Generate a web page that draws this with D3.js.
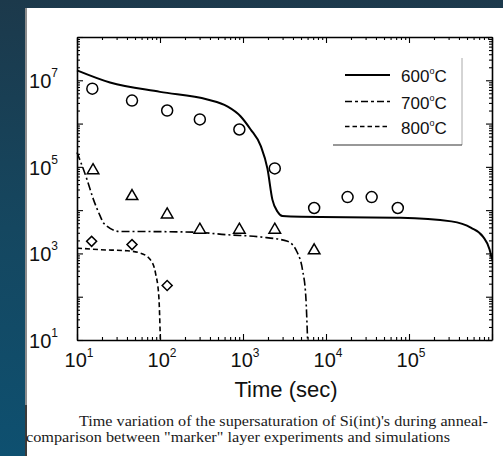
<!DOCTYPE html>
<html>
<head>
<meta charset="utf-8">
<script src="https://cdn.jsdelivr.net/npm/d3@7"></script>
<style>
  html, body { margin: 0; padding: 0; }
  body { width: 503px; height: 456px; overflow: hidden;
         background: linear-gradient(180deg, #1c394b 0%, #154760 50%, #0e5070 100%); }
  svg { display: block; }
</style>
</head>
<body>
<svg id="chart" width="503" height="456"></svg>
<script>
// ---------- data ----------
// simulation curves
const sim600T = [10, 25, 100, 372, 646, 933, 1230, 1640, 1970, 2260, 2610, 2990, 3770, 79400, 324000, 562000, 778000, 935000, 1000000];
const sim600V = [1.7e7, 8.9e6, 5.4e6, 3.6e6, 2.5e6, 1.48e6, 7.4e5, 3.0e5, 9.1e4, 1.75e4, 9.2e3, 7.3e3, 7.1e3, 6.7e3, 5.5e3, 3.9e3, 2.45e3, 1.23e3, 720];

const sim700T = [10, 13.2, 15.8, 19.1, 20.9, 33.3, 63.7, 256, 649, 1640, 3440, 4540, 5210, 5710, 6000];
const sim700V = [2.15e5, 5.1e4, 1.75e4, 7.2e3, 5.0e3, 3.2e3, 3.2e3, 3.1e3, 2.7e3, 2.4e3, 1.9e3, 1.02e3, 418, 101, 10];

const sim800T = [10, 19.1, 40.2, 58.1, 76.7, 88.3, 96.8, 101];
const sim800V = [1.33e3, 1.22e3, 1.15e3, 1.02e3, 713, 351, 101, 10];

// experimental "marker" layer points
const exp600T = [15.3, 46, 122, 302, 904, 2415, 7200, 18200, 35500, 73300];
const exp600V = [6.4e6, 3.4e6, 2.0e6, 1.25e6, 7.3e5, 9.2e4, 1.12e4, 2.0e4, 2.0e4, 1.12e4];

const exp700T = [15.6, 46, 122, 302, 904, 2415, 7200];
const exp700V = [8.3e4, 2.1e4, 7.9e3, 3.5e3, 3.5e3, 3.5e3, 1.17e3];

const exp800T = [15, 46, 122];
const exp800V = [1.9e3, 1.6e3, 181];

// tick labels
const xLabelExps = [1, 2, 3, 4, 5];
const yLabelExps = [1, 3, 5, 7];
const legendLabels = ["600", "700", "800"];
const xTitle = "Time (sec)";
const caption1 = "Time variation of the supersaturation of Si(int)'s during anneal-";
const caption2 = "comparison between \"marker\" layer experiments and simulations";

// ---------- layout ----------
const svg = d3.select("#chart");
const L = 77, R = 492, T = 37, B = 340;

// white page panel
svg.append("rect").attr("x", 25).attr("y", 8).attr("width", 478).attr("height", 448).attr("fill", "#ffffff");
svg.append("line").attr("x1", 26).attr("x2", 26).attr("y1", 8).attr("y2", 405)
   .attr("stroke", "#8c8c8c").attr("stroke-width", 2);
svg.append("line").attr("x1", 26).attr("x2", 26).attr("y1", 405).attr("y2", 456)
   .attr("stroke", "#3a3a3a").attr("stroke-width", 2);

const x = d3.scaleLog().domain([10, 1e6]).range([L, R]);
const y = d3.scaleLog().domain([10, 1e8]).range([B, T]);

// tick values
const xMajor = d3.range(1, 7).map(e => Math.pow(10, e));
const xMinor = [];
for (let e = 1; e < 6; e++) for (let k = 2; k <= 9; k++) xMinor.push(k * Math.pow(10, e));
const yMajor = d3.range(1, 9).map(e => Math.pow(10, e));
const yMinor = [];
for (let e = 1; e < 8; e++) for (let k = 2; k <= 9; k++) yMinor.push(k * Math.pow(10, e));

function styleAxis(g) {
  g.selectAll("path.domain").attr("stroke", "#000").attr("stroke-width", 1.6);
  g.selectAll(".tick line").attr("stroke", "#000").attr("stroke-width", 1.1);
  g.selectAll(".tick text").remove();
}

// bottom
svg.append("g").attr("transform", `translate(0,${B})`)
  .call(d3.axisBottom(x).tickValues(xMajor).tickSize(-6).tickSizeOuter(0).tickFormat(""))
  .call(styleAxis);
svg.append("g").attr("transform", `translate(0,${B})`)
  .call(d3.axisBottom(x).tickValues(xMinor).tickSize(-3).tickSizeOuter(0).tickFormat(""))
  .call(styleAxis).call(g => g.select("path.domain").remove());
// top
svg.append("g").attr("transform", `translate(0,${T})`)
  .call(d3.axisTop(x).tickValues(xMajor).tickSize(-6).tickSizeOuter(0).tickFormat(""))
  .call(styleAxis);
svg.append("g").attr("transform", `translate(0,${T})`)
  .call(d3.axisTop(x).tickValues(xMinor).tickSize(-3).tickSizeOuter(0).tickFormat(""))
  .call(styleAxis).call(g => g.select("path.domain").remove());
// left
svg.append("g").attr("transform", `translate(${L},0)`)
  .call(d3.axisLeft(y).tickValues(yMajor).tickSize(-6).tickSizeOuter(0).tickFormat(""))
  .call(styleAxis);
svg.append("g").attr("transform", `translate(${L},0)`)
  .call(d3.axisLeft(y).tickValues(yMinor).tickSize(-3).tickSizeOuter(0).tickFormat(""))
  .call(styleAxis).call(g => g.select("path.domain").remove());
// right
svg.append("g").attr("transform", `translate(${R},0)`)
  .call(d3.axisRight(y).tickValues(yMajor).tickSize(-6).tickSizeOuter(0).tickFormat(""))
  .call(styleAxis);
svg.append("g").attr("transform", `translate(${R},0)`)
  .call(d3.axisRight(y).tickValues(yMinor).tickSize(-3).tickSizeOuter(0).tickFormat(""))
  .call(styleAxis).call(g => g.select("path.domain").remove());

const sans = "Liberation Sans, Arial, Helvetica, sans-serif";

// x tick labels
xLabelExps.forEach(e => {
  const t = svg.append("text").attr("x", x(Math.pow(10, e)) + 2).attr("y", 367)
    .attr("text-anchor", "middle").attr("font-family", sans).attr("font-size", 20).attr("fill", "#111");
  t.append("tspan").text("10");
  t.append("tspan").attr("dy", -10).attr("font-size", 12).text(String(e));
});
// y tick labels
yLabelExps.forEach(e => {
  const t = svg.append("text").attr("x", 58).attr("y", y(Math.pow(10, e)) + 8)
    .attr("text-anchor", "end").attr("font-family", sans).attr("font-size", 20).attr("fill", "#111");
  t.append("tspan").text("10");
  t.append("tspan").attr("dy", -11).attr("font-size", 12).text(String(e));
});
// x title
svg.append("text").attr("x", 286).attr("y", 397).attr("text-anchor", "middle")
  .attr("font-family", sans).attr("font-size", 22).attr("fill", "#111").text(xTitle);

// ---------- curves ----------
const line = d3.line().x(d => x(d[0])).y(d => y(d[1])).curve(d3.curveMonotoneX);
const styles = [
  { w: 2.0, dash: null },
  { w: 1.6, dash: "8,3,2,3" },
  { w: 1.6, dash: "5,3" }
];
const sims = [[sim600T, sim600V], [sim700T, sim700V], [sim800T, sim800V]];
sims.forEach((s, i) => {
  const pts = s[0].map((t, j) => [t, s[1][j]]);
  svg.append("path").datum(pts).attr("d", line)
    .attr("fill", "none").attr("stroke", "#000")
    .attr("stroke-width", styles[i].w)
    .attr("stroke-dasharray", styles[i].dash);
});

// ---------- markers ----------
const markerSets = [
  { T: exp600T, V: exp600V, sym: d3.symbolCircle, size: 95, rot: 0 },
  { T: exp700T, V: exp700V, sym: d3.symbolTriangle, size: 58, rot: 0 },
  { T: exp800T, V: exp800V, sym: d3.symbolSquare, size: 50, rot: 45 }
];
markerSets.forEach(m => {
  const pts = m.T.map((t, j) => [t, m.V[j]]);
  svg.append("g").selectAll("path").data(pts).join("path")
    .attr("d", d3.symbol().type(m.sym).size(m.size))
    .attr("transform", d => `translate(${x(d[0])},${y(d[1])}) rotate(${m.rot})`)
    .attr("fill", "#fff").attr("stroke", "#000").attr("stroke-width", 1.5);
});

// ---------- legend ----------
const legY = [75, 101.5, 126.5];
legendLabels.forEach((lab, i) => {
  svg.append("line").attr("x1", 345).attr("x2", 390).attr("y1", legY[i]).attr("y2", legY[i])
    .attr("stroke", "#000").attr("stroke-width", i === 0 ? 2.2 : 1.4)
    .attr("stroke-dasharray", i === 1 ? "7,3,3,3" : (i === 2 ? "4.5,3" : null));
  const t = svg.append("text").attr("x", 401).attr("y", legY[i] + 7)
    .attr("font-family", sans).attr("font-size", 17).attr("fill", "#111");
  t.append("tspan").text(lab);
  t.append("tspan").attr("dy", -8).attr("font-size", 9).text("o");
  t.append("tspan").attr("dy", 8).text("C");
});
svg.append("line").attr("x1", 462).attr("x2", 462).attr("y1", 58).attr("y2", 145)
  .attr("stroke", "#aaa").attr("stroke-width", 1);
svg.append("line").attr("x1", 333).attr("x2", 462).attr("y1", 145).attr("y2", 145)
  .attr("stroke", "#333").attr("stroke-width", 1.2);

// ---------- caption ----------
const serif = "Liberation Serif, Times New Roman, serif";
svg.append("text").attr("x", 79).attr("y", 426).attr("font-family", serif).attr("font-size", 14.5)
  .attr("fill", "#1a1a1a").attr("textLength", 409).attr("lengthAdjust", "spacingAndGlyphs").text(caption1);
svg.append("text").attr("x", 26).attr("y", 442).attr("font-family", serif).attr("font-size", 14.5)
  .attr("fill", "#1a1a1a").attr("textLength", 424).attr("lengthAdjust", "spacingAndGlyphs").text(caption2);
</script>
</body>
</html>
